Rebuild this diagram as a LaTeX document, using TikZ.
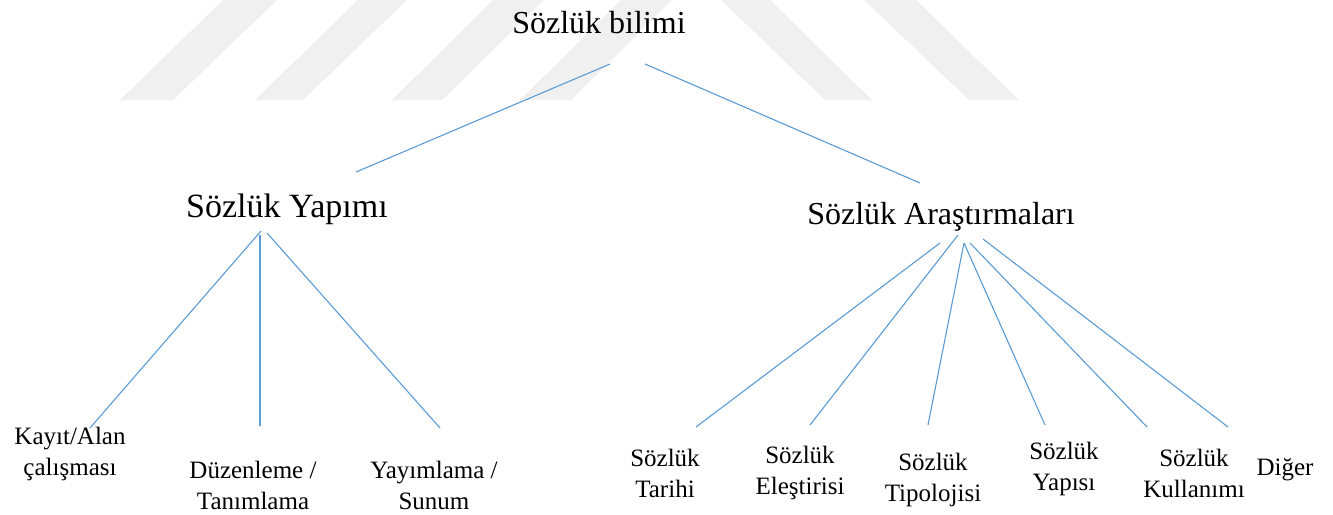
\documentclass[tikz,border=0pt]{standalone}
\usepackage{fontspec}
\setmainfont{Liberation Serif}
\definecolor{linkblue}{HTML}{5B9BD5}
\definecolor{wmgray}{HTML}{F0F0F0}
\tikzset{
  bigtext/.style={font=\fontsize{32}{38}\selectfont, inner sep=0pt, anchor=base},
  leaf/.style={font=\fontsize{25}{31}\selectfont, inner sep=0pt, align=center},
  link/.style={draw=linkblue, line width=1.1pt},
  stripe/.style={fill=wmgray, draw=none}
}
\begin{document}
\begin{tikzpicture}[x=1pt,y=-1pt]
\useasboundingbox (0,0) rectangle (1333,514);
% watermark stripes
\fill[stripe] (223,0) -- (277,0) -- (173,100) -- (120,100) -- cycle;
\fill[stripe] (358,0) -- (407,0) -- (303,100) -- (255,100) -- cycle;
\fill[stripe] (493,0) -- (544,0) -- (442,100) -- (392,100) -- cycle;
\fill[stripe] (621,0) -- (672,0) -- (571,100) -- (520,100) -- cycle;
\fill[stripe] (721,0) -- (770,0) -- (872,100) -- (825,100) -- cycle;
\fill[stripe] (864,0) -- (916,0) -- (1019,100) -- (969,100) -- cycle;
% main nodes
\node[bigtext] (root) at (599,33) {Sözlük bilimi};
\node[bigtext, font=\fontsize{34}{40}\selectfont] (yap) at (287,217) {Sözlük Yapımı};
\node[bigtext] (ara) at (941,224) {Sözlük Araştırmaları};
% leaves
\node[leaf] (kay) at (70,454) {Kayıt/Alan\\çalışması};
\node[leaf] (duz) at (253,485) {Düzenleme /\\Tanımlama};
\node[leaf] (yay) at (434,485) {Yayımlama /\\Sunum};
\node[leaf] (tar) at (665,473) {Sözlük\\Tarihi};
\node[leaf] (ele) at (800,473) {Sözlük\\Eleştirisi};
\node[leaf] (tip) at (933,480) {Sözlük\\Tipolojisi};
\node[leaf] (ypi) at (1064,469) {Sözlük\\Yapısı};
\node[leaf] (kul) at (1194,473) {Sözlük\\Kullanımı};
\node[leaf, anchor=base] (dig) at (1285,475) {Diğer};
% connector end points
\coordinate (r1) at (610,64);  \coordinate (y0) at (356,172);
\coordinate (r2) at (645,64);  \coordinate (a0) at (920,183);
\coordinate (y1) at (261,231); \coordinate (k1) at (90,428);
\coordinate (y2) at (260,235); \coordinate (d1) at (260,426);
\coordinate (y3) at (267,233); \coordinate (s1) at (440,428);
\coordinate (a1) at (940,243); \coordinate (t1) at (696,427);
\coordinate (a2) at (958,235); \coordinate (e1) at (810,425);
\coordinate (a3) at (964,243); \coordinate (p1) at (928,425);
\coordinate (a4) at (964,243); \coordinate (q1) at (1045,425);
\coordinate (a5) at (970,243); \coordinate (u1) at (1147,427);
\coordinate (a6) at (983,239); \coordinate (g1) at (1228,427);
% connectors
\draw[link] (r1) -- (y0);
\draw[link] (r2) -- (a0);
\draw[link] (y1) -- (k1);
\draw[link] (y2) -- (d1);
\draw[link] (y3) -- (s1);
\draw[link] (a1) -- (t1);
\draw[link] (a2) -- (e1);
\draw[link] (a3) -- (p1);
\draw[link] (a4) -- (q1);
\draw[link] (a5) -- (u1);
\draw[link] (a6) -- (g1);
\end{tikzpicture}
\end{document}
